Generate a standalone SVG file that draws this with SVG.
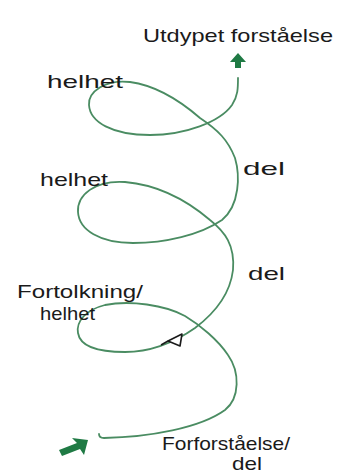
<svg xmlns="http://www.w3.org/2000/svg" width="353" height="476" viewBox="0 0 353 476">
<style>
.lbl{font-family:"Liberation Sans","DejaVu Sans",sans-serif;fill:#1a1a1a;font-size:19px}
.curve{fill:none;stroke:#4a8c62;stroke-width:1.8;stroke-linecap:round;stroke-linejoin:round}
.garrow{fill:#1f7a44}
</style>
<rect width="353" height="476" fill="#ffffff"/>
<g id="connectors">
<path class="curve" d="M99,434 Q99,438 104,438 C150,437 200,428 225,410 C240,398 240,372 228,355 C218,340 200,325 185,316 C165,305 130,300 105,305 C85,310 76,322 78,333 C80,346 98,352 125,352 C150,352 175,342 195,328 C215,313 230,295 233,270 C235,245 225,232 210,220 C190,203 160,185 125,182 C95,180 77,195 78,212 C79,230 100,243 133,243 C165,243 200,235 222,220 C240,205 240,175 235,158 C228,140 218,130 200,118 C185,105 160,86 130,82 C105,79 88,92 89,105 C90,122 112,135 150,135 C185,135 220,122 232,105 C238,96 238,88 238,78"/>
<polygon class="garrow" points="238,53 246,62 241,62 241,68 235,68 235,62 230,62"/>
<polygon class="garrow" points="88,440 84,455 80,449 62,456 59,450 77,443 72,438"/>
<g fill="#ffffff" stroke="#1a1a1a" stroke-width="1.6" stroke-linejoin="round">
<polygon points="168,341 182,334 180,346"/>
<line x1="161" y1="345" x2="168" y2="341"/>
</g>
</g>
<g id="top-label"><text class="lbl" x="143" y="42" textLength="190" lengthAdjust="spacingAndGlyphs">Utdypet forståelse</text></g>
<g id="helhet-1"><text class="lbl" x="47" y="88" font-size="22" textLength="76" lengthAdjust="spacingAndGlyphs">helhet</text></g>
<g id="helhet-2"><text class="lbl" x="40" y="186" textLength="68" lengthAdjust="spacingAndGlyphs">helhet</text></g>
<g id="del-1"><text class="lbl" x="243" y="175" font-size="24" textLength="42" lengthAdjust="spacingAndGlyphs">del</text></g>
<g id="del-2"><text class="lbl" x="248" y="280" font-size="22" textLength="37" lengthAdjust="spacingAndGlyphs">del</text></g>
<g id="fortolkning"><text class="lbl" x="17" y="298" textLength="126" lengthAdjust="spacingAndGlyphs">Fortolkning/</text><text class="lbl" x="40" y="320" font-size="17" textLength="55" lengthAdjust="spacingAndGlyphs">helhet</text></g>
<g id="forforstaelse"><text class="lbl" x="162" y="450" textLength="128" lengthAdjust="spacingAndGlyphs">Forforståelse/</text><text class="lbl" x="232" y="470" font-size="17" textLength="30" lengthAdjust="spacingAndGlyphs">del</text></g>
</svg>
